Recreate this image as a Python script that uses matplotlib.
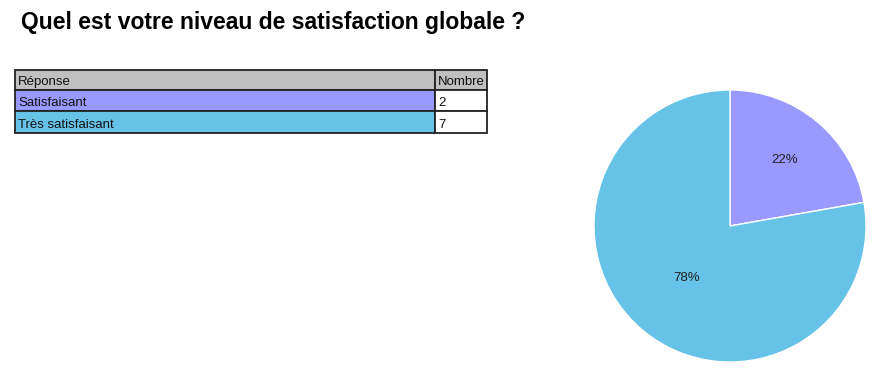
import numpy as np
import matplotlib.pyplot as plt
from matplotlib.patches import Rectangle

plt.rcParams['font.family'] = ['Liberation Sans', 'DejaVu Sans']

# data
reponses = ["Satisfaisant", "Très satisfaisant"]
nombres = [2, 7]
couleurs = ["#9999ff", "#66c2e6"]
entetes = ["Réponse", "Nombre"]
title = "Quel est votre niveau de satisfaction globale ?"

W, H = 892, 392
fig = plt.figure(figsize=(W / 100, H / 100), dpi=100)

# overlay in pixel coordinates for title + table
ov = fig.add_axes([0, 0, 1, 1])
ov.set_xlim(0, W)
ov.set_ylim(H, 0)
ov.axis('off')
ov.text(21, 22, title, fontsize=16.5, fontweight='bold', ha='left', va='center')

x0, xs, x1 = 15, 435, 487
row_y = [70, 90, 111, 133]
rows = [(entetes[0], entetes[1], "#c0c0c0", "#c0c0c0")]
rows += [(r, str(n), c, "white") for r, n, c in zip(reponses, nombres, couleurs)]
for i, (a, b, ca, cb) in enumerate(rows):
    top, bot = row_y[i], row_y[i + 1]
    ov.add_patch(Rectangle((x0, top), xs - x0, bot - top, facecolor=ca,
                           edgecolor='#222222', linewidth=1.3))
    ov.add_patch(Rectangle((xs, top), x1 - xs, bot - top, facecolor=cb,
                           edgecolor='#222222', linewidth=1.3))
    ov.text(x0 + 3, bot - 2, a, fontsize=9.5, ha='left', va='bottom', color='#111111')
    ov.text(xs + 3, bot - 2, b, fontsize=9.5, ha='left', va='bottom', color='#111111')

# pie
cx, cy, r = 730, 226, 136
pax = fig.add_axes([(cx - r) / W, 1 - (cy + r) / H, 2 * r / W, 2 * r / H])
wedges, texts, autotexts = pax.pie(
    nombres, colors=couleurs, startangle=90, counterclock=False,
    autopct='%1.0f%%', pctdistance=0.56,
    wedgeprops=dict(edgecolor='white', linewidth=1),
    textprops=dict(fontsize=9.5, color='#222222'))
for t, k in zip(autotexts, [0.63 / 0.56, 0.5 / 0.56]):
    x, y = t.get_position()
    t.set_position((x * k, y * k))
pax.set_xlim(-1, 1)
pax.set_ylim(-1, 1)
pax.set_aspect('equal')

fig.savefig("out.png", dpi=100)
